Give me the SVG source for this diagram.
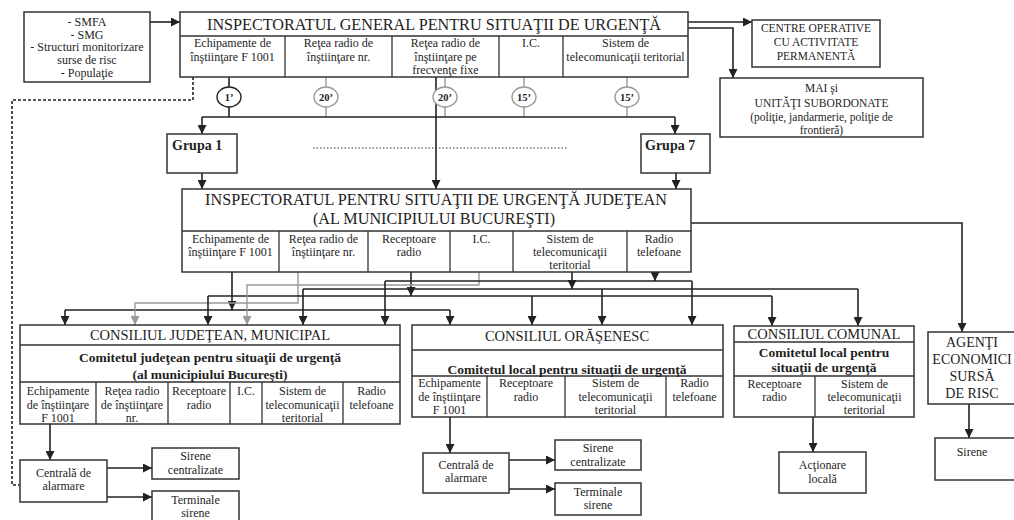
<svg xmlns="http://www.w3.org/2000/svg" width="1014" height="520" viewBox="0 0 1014 520">
<style>
.bx{fill:#fff;stroke:#333;stroke-width:1.5}
.dv{stroke:#333;stroke-width:1.3;fill:none}
.t{font-family:"Liberation Serif","Times New Roman",serif;fill:#1e1e1e;text-anchor:middle}
.s11{font-size:12px}
.s10{font-size:10.5px;font-weight:bold}
.s115{font-size:11.5px}
.s14{font-size:14.5px}
.s16{font-size:16.2px}
.b{font-weight:bold}
.bl{font-size:13.5px;font-weight:bold}
.ln{stroke:#222;stroke-width:1.6;fill:none}
.gl{stroke:#999;stroke-width:1.4;fill:none}
.dash{stroke:#222;stroke-width:1.6;fill:none;stroke-dasharray:3 2}
.dot{stroke:#333;stroke-width:1.2;fill:none;stroke-dasharray:1.5 2}
.el{fill:#fff;stroke-width:1.4}
</style>
<defs>
<marker id="a" viewBox="0 0 10 10" refX="10" refY="5" markerWidth="9" markerHeight="9" markerUnits="userSpaceOnUse" orient="auto"><path d="M0,0 L10,5 L0,10 z" fill="#222"/></marker>
<marker id="g" viewBox="0 0 10 10" refX="10" refY="5" markerWidth="9" markerHeight="9" markerUnits="userSpaceOnUse" orient="auto"><path d="M0,0 L10,5 L0,10 z" fill="#999"/></marker>
</defs>
<rect width="1014" height="520" fill="#fff"/>

<g id="connectors">
<path class="ln" d="M150,22 H180" marker-end="url(#a)"/>
<path class="ln" d="M688,22 H752" marker-end="url(#a)"/>
<path class="ln" d="M688,28 H733 V78" marker-end="url(#a)"/>
<path class="dash" d="M193,77 V100 H12 V485 H20"/>
<path class="ln" d="M229,77 V87 M229,107 V117"/>
<path class="gl" d="M326,77 V87 M326,107 V117 M445,77 V87 M445,107 V117 M524,77 V87 M524,107 V117 M627,77 V87 M627,107 V117"/>
<path class="ln" d="M202,117 H675"/>
<path class="ln" d="M202,117 V134" marker-end="url(#a)"/>
<path class="ln" d="M675,117 V134" marker-end="url(#a)"/>
<path class="ln" d="M436,77 V189" marker-end="url(#a)"/>
<path class="dot" d="M313,148 H568"/>
<path class="ln" d="M202,173 V189" marker-end="url(#a)"/>
<path class="ln" d="M676,173 V189" marker-end="url(#a)"/>
<path class="ln" d="M691,223 H962 V332" marker-end="url(#a)"/>
<path class="ln" d="M969,404 V438" marker-end="url(#a)"/>
<path class="ln" d="M232,272 V310" marker-end="url(#a)"/>
<path class="ln" d="M65,310 H450"/>
<path class="ln" d="M65,310 V325" marker-end="url(#a)"/>
<path class="ln" d="M450,310 V325" marker-end="url(#a)"/>
<path class="gl" d="M298,272 V303 H135 V325" marker-end="url(#g)"/>
<path class="ln" d="M411,272 V296" marker-end="url(#a)"/>
<path class="ln" d="M208,296 H772"/>
<path class="ln" d="M208,296 V325" marker-end="url(#a)"/>
<path class="ln" d="M532,296 V325" marker-end="url(#a)"/>
<path class="ln" d="M772,296 V326" marker-end="url(#a)"/>
<path class="gl" d="M479,272 V285 H247 V325" marker-end="url(#g)"/>
<path class="ln" d="M572,272 V289" marker-end="url(#a)"/>
<path class="ln" d="M303,289 H858"/>
<path class="ln" d="M303,289 V325" marker-end="url(#a)"/>
<path class="ln" d="M602,289 V325" marker-end="url(#a)"/>
<path class="ln" d="M858,289 V326" marker-end="url(#a)"/>
<path class="ln" d="M655,272 V281" marker-end="url(#a)"/>
<path class="ln" d="M385,281 H692"/>
<path class="ln" d="M385,281 V325" marker-end="url(#a)"/>
<path class="ln" d="M692,281 V325" marker-end="url(#a)"/>
<path class="ln" d="M50,424 V460" marker-end="url(#a)"/>
<path class="ln" d="M107,468 H152" marker-end="url(#a)"/>
<path class="ln" d="M107,497 H152" marker-end="url(#a)"/>
<path class="ln" d="M450,417 V453" marker-end="url(#a)"/>
<path class="ln" d="M509,460 H555" marker-end="url(#a)"/>
<path class="ln" d="M509,489 H555" marker-end="url(#a)"/>
<path class="ln" d="M813,376 V452" marker-end="url(#a)"/>
</g>

<g id="times">
<ellipse class="el" cx="229" cy="97" rx="12" ry="10" stroke="#222"/>
<text class="t s10" x="229" y="101">1’</text>
<ellipse class="el" cx="326" cy="97" rx="12" ry="10" stroke="#999"/>
<text class="t s10" x="326" y="101">20’</text>
<ellipse class="el" cx="445" cy="97" rx="12" ry="10" stroke="#999"/>
<text class="t s10" x="445" y="101">20’</text>
<ellipse class="el" cx="524" cy="97" rx="12" ry="10" stroke="#999"/>
<text class="t s10" x="524" y="101">15’</text>
<ellipse class="el" cx="627" cy="97" rx="12" ry="10" stroke="#999"/>
<text class="t s10" x="627" y="101">15’</text>
</g>

<g id="surse">
<rect class="bx" x="24" y="12" width="126" height="70"/>
<text class="t s11" x="87" y="26">- SMFA</text>
<text class="t s11" x="87" y="38.5">- SMG</text>
<text class="t s11" x="87" y="51">- Structuri monitorizare</text>
<text class="t s11" x="87" y="64">surse de risc</text>
<text class="t s11" x="87" y="77">- Populaţie</text>
</g>

<g id="igsu">
<rect class="bx" x="180" y="12" width="508" height="65"/>
<path class="dv" d="M180,36 H688 M285,36 V77 M392,36 V77 M499,36 V77 M563,36 V77"/>
<text class="t s16" x="434" y="30">INSPECTORATUL GENERAL PENTRU SITUAŢII DE URGENŢĂ</text>
<text class="t s11" x="232.5" y="47">Echipamente de</text>
<text class="t s11" x="232.5" y="60.5">înştiinţare F 1001</text>
<text class="t s11" x="338.5" y="47">Reţea radio de</text>
<text class="t s11" x="338.5" y="60.5">înştiinţare nr.</text>
<text class="t s11" x="445.5" y="47">Reţea radio de</text>
<text class="t s11" x="445.5" y="60.5">înştiinţare pe</text>
<text class="t s11" x="445.5" y="74">frecvenţe fixe</text>
<text class="t s11" x="531" y="47">I.C.</text>
<text class="t s11" x="625.5" y="47">Sistem de</text>
<text class="t s11" x="625.5" y="60.5">telecomunicaţii teritorial</text>
</g>

<g id="centre">
<rect class="bx" x="752" y="20" width="128" height="47"/>
<text class="t s115" x="816" y="32">CENTRE OPERATIVE</text>
<text class="t s115" x="816" y="46">CU ACTIVITATE</text>
<text class="t s115" x="816" y="60">PERMANENTĂ</text>
</g>

<g id="mai">
<rect class="bx" x="720" y="78" width="203" height="59"/>
<text class="t s115" x="821.5" y="92">MAI  şi</text>
<text class="t s115" x="821.5" y="107">UNITĂŢI SUBORDONATE</text>
<text class="t s115" x="821.5" y="121">(poliţie, jandarmerie, poliţie de</text>
<text class="t s115" x="821.5" y="134">frontieră)</text>
</g>

<g id="grupa1">
<rect class="bx" x="167" y="134" width="70" height="39"/>
<text class="t b" style="font-size:14px;text-anchor:start" x="172" y="150">Grupa 1</text>
</g>

<g id="grupa7">
<rect class="bx" x="641" y="134" width="69" height="39"/>
<text class="t b" style="font-size:14px;text-anchor:start" x="645" y="150">Grupa 7</text>
</g>

<g id="isuj">
<rect class="bx" x="182" y="189" width="509" height="83"/>
<path class="dv" d="M182,231 H691 M279,231 V272 M368,231 V272 M450,231 V272 M513,231 V272 M627,231 V272"/>
<text class="t s16" x="436" y="205">INSPECTORATUL PENTRU SITUAŢII DE URGENŢĂ JUDEŢEAN</text>
<text class="t s16" x="434" y="224">(AL MUNICIPIULUI BUCUREŞTI)</text>
<text class="t s11" x="230.5" y="243">Echipamente de</text>
<text class="t s11" x="230.5" y="256">înştiinţare F 1001</text>
<text class="t s11" x="323.5" y="243">Reţea radio de</text>
<text class="t s11" x="323.5" y="256">înştiinţare nr.</text>
<text class="t s11" x="409" y="243">Receptoare</text>
<text class="t s11" x="409" y="256">radio</text>
<text class="t s11" x="481.5" y="243">I.C.</text>
<text class="t s11" x="570" y="243">Sistem de</text>
<text class="t s11" x="570" y="256">telecomunicaţii</text>
<text class="t s11" x="570" y="269">teritorial</text>
<text class="t s11" x="659" y="243">Radio</text>
<text class="t s11" x="659" y="256">telefoane</text>
</g>

<g id="agenti">
<rect class="bx" x="928" y="332" width="92" height="72"/>
<text class="t" style="font-size:14px" x="972" y="347">AGENŢI</text>
<text class="t" style="font-size:14px" x="972" y="364">ECONOMICI</text>
<text class="t" style="font-size:14px" x="972" y="381">SURSĂ</text>
<text class="t" style="font-size:14px" x="972" y="398">DE RISC</text>
</g>

<g id="sirene-agenti">
<rect class="bx" x="935" y="438" width="82" height="42"/>
<text class="t s11" x="972" y="456">Sirene</text>
</g>

<g id="cj">
<rect class="bx" x="20" y="325" width="380" height="99"/>
<path class="dv" d="M20,345 H400 M20,382 H400 M96,382 V424 M168,382 V424 M230,382 V424 M262,382 V424 M343,382 V424"/>
<text class="t s14" x="210" y="340">CONSILIUL JUDEŢEAN, MUNICIPAL</text>
<text class="t bl" x="210" y="362">Comitetul judeţean pentru situaţii de urgenţă</text>
<text class="t bl" x="210" y="379">(al municipiului Bucureşti)</text>
<text class="t s11" x="58" y="395">Echipamente</text>
<text class="t s11" x="58" y="408.5">de înştiinţare</text>
<text class="t s11" x="58" y="422">F 1001</text>
<text class="t s11" x="132" y="395">Reţea radio</text>
<text class="t s11" x="132" y="408.5">de înştiinţare</text>
<text class="t s11" x="132" y="422">nr.</text>
<text class="t s11" x="199" y="395">Receptoare</text>
<text class="t s11" x="199" y="408.5">radio</text>
<text class="t s11" x="246" y="395">I.C.</text>
<text class="t s11" x="302.5" y="395">Sistem de</text>
<text class="t s11" x="302.5" y="408.5">telecomunicaţii</text>
<text class="t s11" x="302.5" y="422">teritorial</text>
<text class="t s11" x="371.5" y="395">Radio</text>
<text class="t s11" x="371.5" y="408.5">telefoane</text>
</g>

<g id="cj-centrala">
<rect class="bx" x="20" y="460" width="87" height="42"/>
<text class="t s11" x="63.5" y="477">Centrală de</text>
<text class="t s11" x="63.5" y="490">alarmare</text>
</g>
<g id="cj-sirene">
<rect class="bx" x="152" y="448" width="87" height="31"/>
<text class="t s11" x="195.5" y="459.5">Sirene</text>
<text class="t s11" x="195.5" y="474">centralizate</text>
</g>
<g id="cj-terminale">
<rect class="bx" x="152" y="491" width="87" height="31"/>
<text class="t s11" x="195.5" y="504">Terminale</text>
<text class="t s11" x="195.5" y="517">sirene</text>
</g>

<g id="co">
<rect class="bx" x="412" y="325" width="311" height="92"/>
<path class="dv" d="M412,350 H723 M412,376 H723 M487,376 V417 M565,376 V417 M666,376 V417"/>
<text class="t s14" x="567" y="341">CONSILIUL ORĂŞENESC</text>
<text class="t bl" x="567" y="374">Comitetul local pentru situaţii de urgenţă</text>
<text class="t s11" x="449.5" y="387">Echipamente</text>
<text class="t s11" x="449.5" y="400.5">de înştiinţare</text>
<text class="t s11" x="449.5" y="414">F 1001</text>
<text class="t s11" x="526" y="387">Receptoare</text>
<text class="t s11" x="526" y="400.5">radio</text>
<text class="t s11" x="615.5" y="387">Sistem de</text>
<text class="t s11" x="615.5" y="400.5">telecomunicaţii</text>
<text class="t s11" x="615.5" y="414">teritorial</text>
<text class="t s11" x="694.5" y="387">Radio</text>
<text class="t s11" x="694.5" y="400.5">telefoane</text>
</g>

<g id="co-centrala">
<rect class="bx" x="423" y="453" width="86" height="40"/>
<text class="t s11" x="466" y="469">Centrală de</text>
<text class="t s11" x="466" y="482">alarmare</text>
</g>
<g id="co-sirene">
<rect class="bx" x="555" y="440" width="86" height="30"/>
<text class="t s11" x="598" y="452">Sirene</text>
<text class="t s11" x="598" y="466">centralizate</text>
</g>
<g id="co-terminale">
<rect class="bx" x="555" y="483" width="86" height="32"/>
<text class="t s11" x="598" y="496">Terminale</text>
<text class="t s11" x="598" y="509">sirene</text>
</g>

<g id="cc">
<rect class="bx" x="734" y="326" width="180" height="91"/>
<path class="dv" d="M734,342 H914 M734,376 H914 M815,376 V417"/>
<text class="t s14" x="824" y="339">CONSILIUL COMUNAL</text>
<text class="t bl" x="824" y="357">Comitetul local pentru</text>
<text class="t bl" x="824" y="372">situaţii de urgenţă</text>
<text class="t s11" x="774.5" y="388">Receptoare</text>
<text class="t s11" x="774.5" y="401">radio</text>
<text class="t s11" x="864.5" y="388">Sistem de</text>
<text class="t s11" x="864.5" y="401">telecomunicaţii</text>
<text class="t s11" x="864.5" y="414">teritorial</text>
</g>

<g id="actionare">
<rect class="bx" x="779" y="452" width="87" height="41"/>
<text class="t s11" x="822.5" y="469">Acţionare</text>
<text class="t s11" x="822.5" y="483">locală</text>
</g>
</svg>
